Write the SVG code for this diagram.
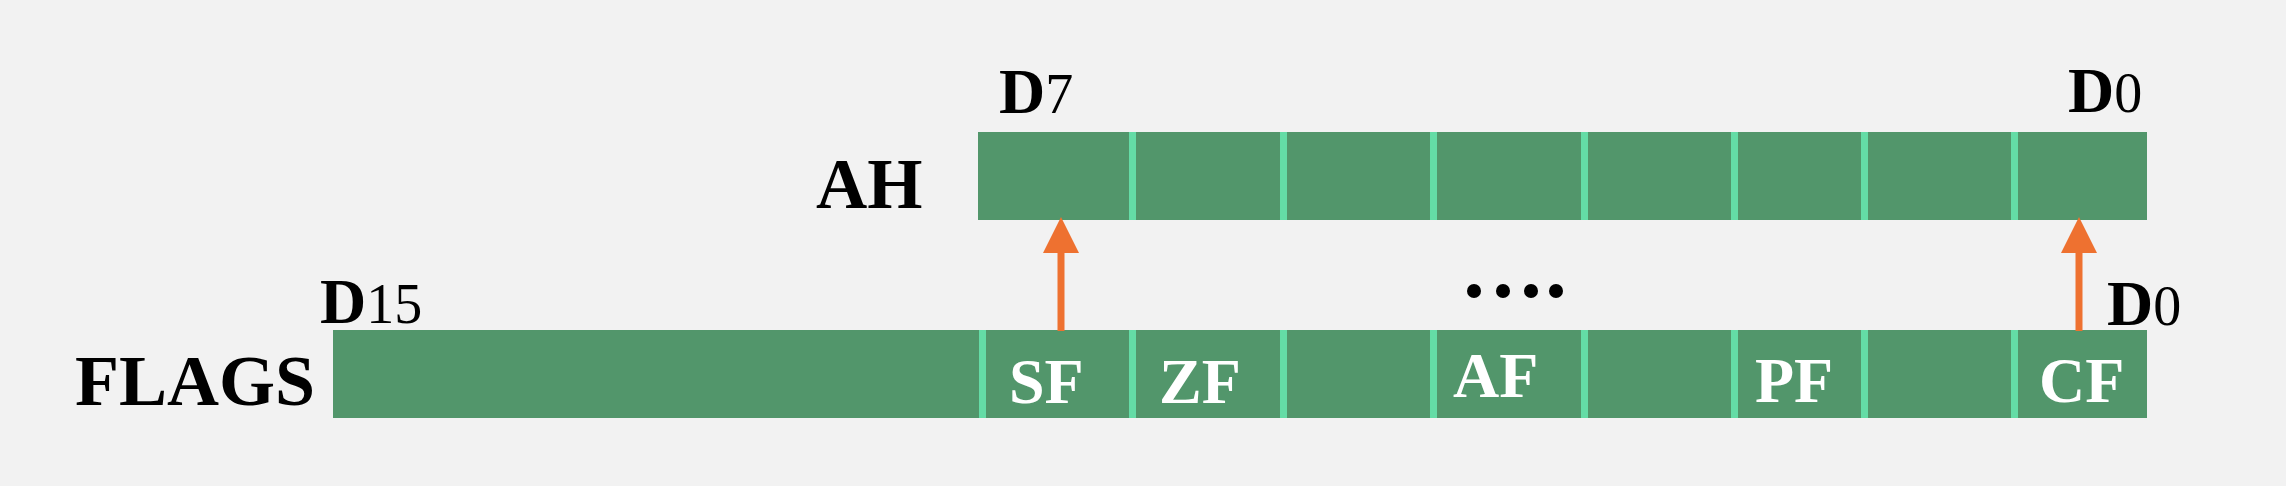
<svg xmlns="http://www.w3.org/2000/svg" width="2286" height="486" viewBox="0 0 2286 486">
<style>
.bar{fill:#52966B}
.div{fill:#64DCA6}
.lbl{font-family:"Liberation Serif","Times New Roman",serif;font-weight:bold;fill:#000}
.dig{font-weight:normal}
.cell{font-family:"Liberation Serif","Times New Roman",serif;font-weight:bold;fill:#fff;font-size:64px}
.arr{stroke:#EE7130;stroke-width:7;fill:none}
.head{fill:#EE7130}
</style>
<rect width="2286" height="486" fill="#F2F2F2"/>
<g id="AH">
<rect class="bar" x="978" y="132" width="1169" height="88"/>
<rect class="div" x="1129" y="132" width="7" height="88"/>
<rect class="div" x="1280" y="132" width="7" height="88"/>
<rect class="div" x="1430" y="132" width="7" height="88"/>
<rect class="div" x="1581" y="132" width="7" height="88"/>
<rect class="div" x="1731" y="132" width="7" height="88"/>
<rect class="div" x="1861" y="132" width="7" height="88"/>
<rect class="div" x="2011" y="132" width="7" height="88"/>
<text class="lbl" x="816" y="208" font-size="71">AH</text>
<text class="lbl" x="999" y="113" font-size="64">D<tspan class="dig" font-size="56">7</tspan></text>
<text class="lbl" x="2068" y="112" font-size="64">D<tspan class="dig" font-size="56">0</tspan></text>
</g>
<g id="FLAGS">
<rect class="bar" x="333" y="330" width="1814" height="88"/>
<rect class="div" x="979" y="330" width="7" height="88"/>
<rect class="div" x="1129" y="330" width="7" height="88"/>
<rect class="div" x="1280" y="330" width="7" height="88"/>
<rect class="div" x="1430" y="330" width="7" height="88"/>
<rect class="div" x="1581" y="330" width="7" height="88"/>
<rect class="div" x="1731" y="330" width="7" height="88"/>
<rect class="div" x="1861" y="330" width="7" height="88"/>
<rect class="div" x="2011" y="330" width="7" height="88"/>
<text class="lbl" x="75" y="405" font-size="72">FLAGS</text>
<text class="lbl" x="320" y="323" font-size="64">D<tspan class="dig" font-size="56">15</tspan></text>
<text class="lbl" x="2107" y="325" font-size="64">D<tspan class="dig" font-size="56">0</tspan></text>
<text class="cell" x="1009" y="403">SF</text>
<text class="cell" x="1159" y="403">ZF</text>
<text class="cell" x="1453" y="397">AF</text>
<text class="cell" x="1755" y="402">PF</text>
<text class="cell" x="2039" y="402">CF</text>
</g>
<g id="ellipsis">
<circle cx="1474" cy="291" r="7"/>
<circle cx="1503" cy="291" r="7"/>
<circle cx="1531" cy="291" r="7"/>
<circle cx="1556" cy="291" r="7"/>
</g>
<g id="connectors">
<line class="arr" x1="1061" y1="331" x2="1061" y2="250"/>
<polygon class="head" points="1061,217 1079,253 1043,253"/>
<line class="arr" x1="2079" y1="331" x2="2079" y2="250"/>
<polygon class="head" points="2079,217 2097,253 2061,253"/>
</g>
</svg>
